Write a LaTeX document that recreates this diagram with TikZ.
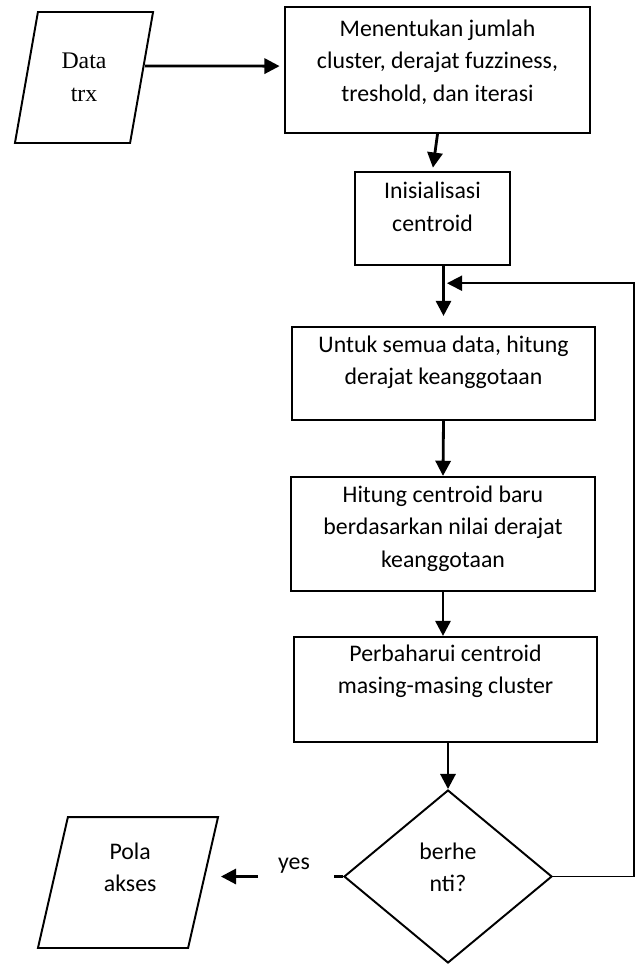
\documentclass[tikz,border=0pt]{standalone}
\usepackage{fontspec}
\setmainfont{Carlito}
\newfontfamily\timesfont{Liberation Serif}
\usetikzlibrary{arrows.meta, positioning, shapes.geometric}

\tikzset{
  box/.style={draw, line width=1pt, inner sep=0pt},
  io/.style={draw, line width=0.9pt, trapezium, trapezium left angle=76,
    trapezium right angle=104, trapezium stretches=true, inner sep=2pt,
    minimum height=60.5pt},
  decision/.style={draw, diamond, line width=0.9pt, inner sep=0pt},
  txt/.style={align=center, font=\fontsize{11}{15}\selectfont},
  flow/.style={-{Triangle[length=7pt, width=7pt]}, line width=1.3pt},
  back/.style={-{Triangle[length=7pt, width=7pt]}, line width=0.8pt}
}

\begin{document}
\begin{tikzpicture}[x=0.462pt, y=-0.462pt]
\useasboundingbox (0,0) rectangle (636,966);

% shapes
\node[io, minimum width=63.8pt] (dt) at (84,77.5) {};
\node[box, minimum width=140.9pt, minimum height=58.2pt] (b1) at (437.5,70) {};
\node[box, minimum width=71.6pt, minimum height=43pt] (b2) at (432.5,218.5) {};
\node[box, minimum width=140pt, minimum height=43pt] (b3) at (443.5,373.5) {};
\node[box, minimum width=140.4pt, minimum height=52.7pt] (b4) at (443,534) {};
\node[box, minimum width=140pt, minimum height=48.5pt] (b5) at (445.5,689.5) {};
\node[decision, minimum width=96.1pt, minimum height=79.9pt] (dec) at (448,876.5) {};
\node[io, minimum width=83.2pt] (po) at (128,882.5) {};

% texts
\node[txt, font=\timesfont\fontsize{11}{15}\selectfont] (dtt) at (dt) {Data\\trx};
\node[txt] (b1t) at ([yshift=3.7pt]b1.center) {Menentukan jumlah\\cluster, derajat fuzziness,\\treshold, dan iterasi};
\node[txt] (b2t) at ([yshift=5.5pt]b2.center) {Inisialisasi\\centroid};
\node[txt] (b3t) at ([yshift=5.1pt]b3.center) {Untuk semua data, hitung\\derajat keanggotaan};
\node[txt] (b4t) at ([yshift=2.5pt]b4.center) {Hitung centroid baru\\berdasarkan nilai derajat\\keanggotaan};
\node[txt] (b5t) at ([yshift=8.5pt]b5.center) {Perbaharui centroid\\masing-masing cluster};
\node[txt] (dect) at ([yshift=4.2pt]dec.center) {berhe\\nti?};
\node[txt] (pot) at ([shift={(1pt,6.9pt)}]po.center) {Pola\\akses};
\node[txt] (yes) at (294,866) {yes};

% connectors
\draw[flow, shorten >=2pt] ([shift={(1.2pt,5.3pt)}]dt.east) -- ([yshift=1.8pt]b1.west);
\draw[flow, shorten >=1.5pt] (b1.south) -- (b2.north);
\draw[flow] (b2.south -| b3.north) -- ([yshift=4.6pt]b3.north);
\coordinate (join) at ([yshift=-7.9pt]b2.south -| b3.north);
\draw[back] (dec.east) -- ++(81,0) |- ([xshift=1.6pt]join);
\draw[flow] (b3.south) -- (b4.north);
\draw[flow] (b4.south) -- (b4.south |- b5.north);
\draw[flow] (b5.south -| dec.north) -- (dec.north);
\draw[line width=1.2pt] (dec.west) -- ++(-9,0);
\draw[flow, shorten <=5.7pt, shorten >=7.8pt] (yes.west |- dec.west) -- (po.east |- dec.west);
\end{tikzpicture}
\end{document}
